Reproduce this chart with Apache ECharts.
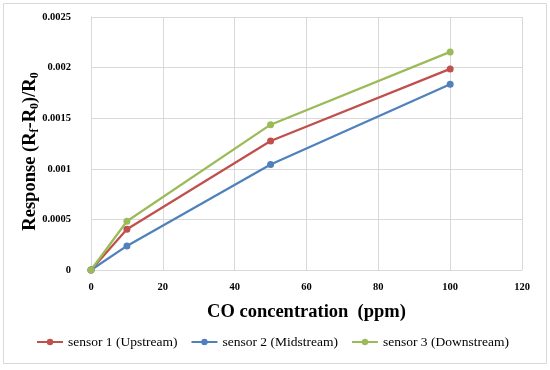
<!DOCTYPE html>
<html><head><meta charset="utf-8">
<script src="https://cdn.jsdelivr.net/npm/echarts@6/dist/echarts.min.js"></script>
<style>html,body{margin:0;padding:0;background:#fff}#c{width:550px;height:370px}</style>
</head><body><div id="c"></div>
<script>
var concentrations = [0, 10, 50, 100];
var sensor1 = [0, 0.000403, 0.001274, 0.001987];
var sensor2 = [0, 0.000238, 0.001043, 0.001835];
var sensor3 = [0, 0.000482, 0.001436, 0.002155];
var seriesNames = ['sensor 1 (Upstream)', 'sensor 2 (Midstream)', 'sensor 3 (Downstream)'];
var xTickLabels = ['0', '20', '40', '60', '80', '100', '120'];
var yTickLabels = ['0', '0.0005', '0.001', '0.0015', '0.002', '0.0025'];
var colors = ['#c0504d', '#4f81bd', '#9bbb59'];
var FONT = 'Liberation Serif';

function pairs(xs, ys) { return xs.map(function (x, i) { return [x, ys[i]]; }); }

var chart = echarts.init(document.getElementById('c'));
var data = [sensor1, sensor2, sensor3];
chart.setOption({
  animation: false,
  color: colors,
  graphic: [{
    type: 'rect', shape: { x: 3.5, y: 3.5, width: 543, height: 360 },
    style: { fill: 'none', stroke: '#d9d9d9', lineWidth: 1 }, silent: true, z: -1
  }],
  grid: { left: 91, right: 28, top: 17, bottom: 100 },
  xAxis: {
    type: 'value', min: 0, max: 120, interval: 20,
    name: 'CO concentration  (ppm)', nameLocation: 'middle', nameGap: 33,
    nameTextStyle: { fontFamily: FONT, fontWeight: 'bold', fontSize: 18.5, color: '#000' },
    axisLine: { show: true, lineStyle: { color: '#d9d9d9' } },
    axisTick: { show: false },
    splitLine: { show: true, lineStyle: { color: '#d9d9d9' } },
    axisLabel: {
      fontFamily: FONT, fontWeight: 'bold', fontSize: 10.5, color: '#000', margin: 12,
      formatter: function (v) { return xTickLabels[Math.round(v / 20)]; }
    }
  },
  yAxis: {
    type: 'value', min: 0, max: 0.0025, interval: 0.0005,
    name: '{a|Response (R}{s|f}{a|-R}{s|0}{a|)/R}{s|0}',
    nameLocation: 'middle', nameGap: 50, nameRotate: 90, nameMoveOverlap: false,
    nameTextStyle: {
      fontFamily: FONT, fontWeight: 'bold', fontSize: 18.5, color: '#000',
      padding: [0, 16, 0, 0],
      rich: {
        a: { fontFamily: FONT, fontWeight: 'bold', fontSize: 18.5, lineHeight: 22, color: '#000' },
        s: { fontFamily: FONT, fontWeight: 'bold', fontSize: 12, lineHeight: 12, verticalAlign: 'bottom', color: '#000' }
      }
    },
    axisLine: { show: true, lineStyle: { color: '#d9d9d9' } },
    axisTick: { show: false },
    splitLine: { show: true, lineStyle: { color: '#d9d9d9' } },
    axisLabel: {
      fontFamily: FONT, fontWeight: 'bold', fontSize: 10.5, color: '#000', margin: 20,
      formatter: function (v) { return yTickLabels[Math.round(v / 0.0005)]; }
    }
  },
  legend: {
    left: 31, top: 330, itemWidth: 26, itemHeight: 8, itemGap: 13,
    textStyle: { fontFamily: FONT, fontSize: 13.5, color: '#000' },
    data: seriesNames
  },
  series: data.map(function (d, i) {
    return {
      name: seriesNames[i], type: 'line', data: pairs(concentrations, d),
      symbol: 'circle', symbolSize: 7, lineStyle: { width: 2.25 },
      itemStyle: { color: colors[i] }
    };
  })
});
</script></body></html>
